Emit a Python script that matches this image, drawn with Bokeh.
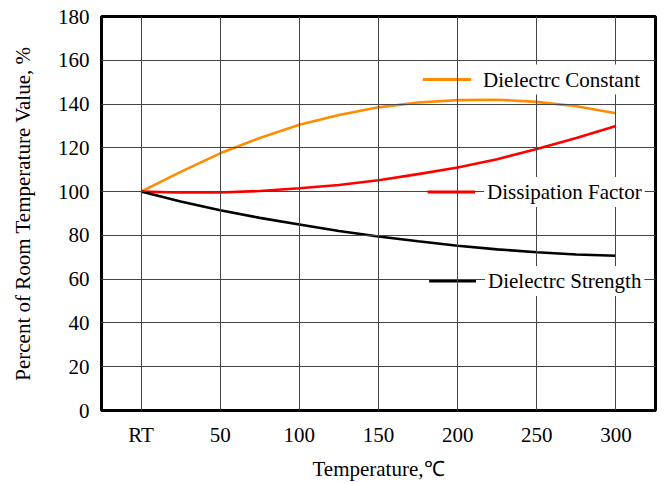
from bokeh.plotting import figure
from bokeh.models import Range1d, FixedTicker, Label
from bokeh.embed import file_html
from bokeh.resources import INLINE

# Data
temps = [0, 25, 50, 75, 100, 125, 150, 175, 200, 225, 250, 275, 300]
tick_vals = [0, 50, 100, 150, 200, 250, 300]
tick_labels = ["RT", "50", "100", "150", "200", "250", "300"]
y_ticks = [0, 20, 40, 60, 80, 100, 120, 140, 160, 180]
dielectric_constant = [100, 109, 117.5, 124.5, 130.5, 135, 138.5, 140.7, 141.8, 142, 141, 139, 135.8]
dissipation_factor = [100, 99.6, 99.6, 100.3, 101.5, 103, 105.2, 108, 111, 114.8, 119.5, 124.5, 130]
dielectric_strength = [100, 95.5, 91.5, 88, 85, 82, 79.5, 77.3, 75.3, 73.6, 72.3, 71.3, 70.7]
series_names = ["Dielectrc Constant", "Dissipation Factor", "Dielectrc Strength"]
series_colors = ["#FF8C00", "#FF0000", "#000000"]

FONT = "Liberation Serif"

p = figure(width=664, height=483, output_backend="svg", toolbar_location=None,
           x_range=Range1d(-25, 325), y_range=Range1d(0, 180),
           min_border_left=101, min_border_top=16, min_border_right=9, min_border_bottom=71)

p.outline_line_color = "black"
p.outline_line_width = 3

p.xaxis.ticker = FixedTicker(ticks=tick_vals)
p.xaxis.major_label_overrides = {v: l for v, l in zip(tick_vals, tick_labels)}
p.yaxis.ticker = FixedTicker(ticks=y_ticks)

p.axis.axis_line_color = None
p.axis.major_tick_line_color = None
p.axis.minor_tick_line_color = None
p.axis.major_label_text_font = FONT
p.axis.major_label_text_font_size = "21px"
p.axis.major_label_text_color = "black"
p.axis.axis_label_text_font = FONT
p.axis.axis_label_text_font_size = "21px"
p.axis.axis_label_text_font_style = "normal"
p.axis.axis_label_text_color = "black"

p.xaxis.axis_label = "Temperature,\u2103"
p.yaxis.axis_label = "Percent of Room Temperature Value, %"
p.xaxis.major_label_standoff = 6
p.yaxis.major_label_standoff = 6
p.xaxis.axis_label_standoff = 7
p.yaxis.axis_label_standoff = 20

p.grid.grid_line_color = "#444444"
p.grid.grid_line_width = 1
p.grid.grid_line_alpha = 1.0
p.grid.level = "glyph"

for vals, col in zip([dielectric_constant, dissipation_factor, dielectric_strength], series_colors):
    p.line(temps, vals, line_color=col, line_width=2.6)

# Legend samples (layout positions in data units)
legend_y = [151.2, 99.8, 59.2]
legend_x0 = [178, 181, 182]
legend_x1 = [208.5, 211, 211.6]
legend_tx = [214.2, 216.7, 217.3]
for name, col, ly, x0, x1, tx in zip(series_names, series_colors, legend_y, legend_x0, legend_x1, legend_tx):
    p.line([x0, x1], [ly, ly], line_color=col, line_width=3)
    p.add_layout(Label(x=tx, y=ly, text=name, text_font=FONT, text_font_size="21px",
                       text_baseline="middle", text_align="left", text_color="black",
                       background_fill_color="white", padding=3))

open("out.html", "w").write(file_html(p, INLINE))
